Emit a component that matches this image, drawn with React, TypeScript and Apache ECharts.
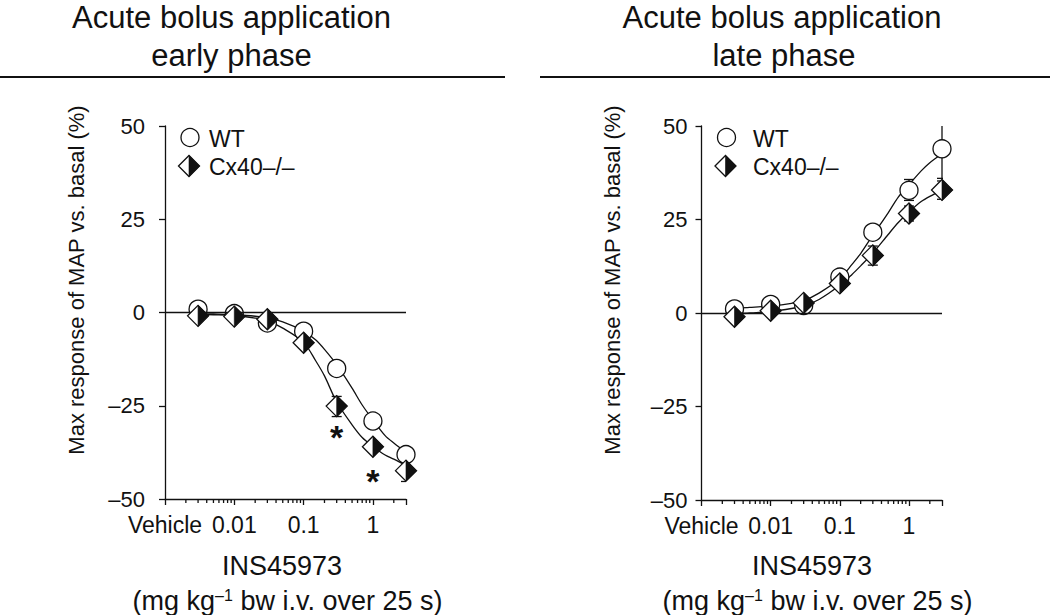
import React, { useEffect, useRef } from 'react';
import * as echarts from 'echarts';

// ---------------- data ----------------
const doses = [0.003, 0.01, 0.03, 0.1, 0.3, 1, 3];
const earlyWT = [0.9, -0.3, -2.8, -5.0, -15.0, -29.1, -38.1];
const earlyCx = [-0.9, -1.1, -1.8, -8.1, -25.1, -36.0, -42.4];
const lateWT = [1.1, 2.3, 2.0, 9.6, 21.6, 32.8, 43.9];
const lateCx = [-1.0, 0.6, 2.7, 7.9, 15.4, 26.6, 32.9];

// fitted curves
const fitDoses = [0.003, 0.005, 0.01, 0.02, 0.03, 0.05, 0.1, 0.15, 0.2, 0.3, 0.5, 0.7, 1, 1.5, 2, 3];
const earlyWTFit = [-0.3, -0.4, -0.6, -1.0, -1.5, -2.5, -5.0, -7.4, -9.9, -14.0, -20.3, -24.8, -28.8, -33.0, -35.0, -37.5];
const earlyCxFit = [-0.5, -0.6, -0.8, -1.5, -2.2, -4.2, -8.0, -13.0, -17.0, -24.0, -30.1, -33.5, -35.9, -38.2, -39.3, -41.0];
const lateWTFit = [1.3, 1.5, 1.9, 2.6, 3.3, 5.3, 9.2, 13.0, 15.9, 20.8, 26.8, 31.0, 34.3, 38.0, 40.2, 42.6];
const lateCxFit = [-0.2, 0.0, 0.4, 1.2, 1.9, 3.6, 7.4, 10.3, 12.6, 16.0, 21.0, 24.2, 27.0, 29.8, 31.2, 32.8];

// error bars: [dose, low, high]
const earlyCxErr = [[0.3, -27.9, -22.5], [3, -45.3, -39.5]];
const lateWTErr = [[1, 30.1, 35.7], [3, 36.0, 52.0]];
const lateCxErr = [[0.3, 12.8, 17.9], [1, 24.6, 28.6], [3, 30.4, 35.3]];

// significance marks: [dose, y]
const earlyStars = [[0.3, -31.2], [1, -42.9]];

// axes
const yTicks = [-50, -25, 0, 25, 50];
const xMajorLabels: Record<string, string> = { '-3': 'Vehicle', '-2': '0.01', '-1': '0.1', '0': '1' };
const xMinorTicks = [
  0.002, 0.003, 0.004, 0.005, 0.006, 0.007, 0.008, 0.009,
  0.02, 0.03, 0.04, 0.05, 0.06, 0.07, 0.08, 0.09,
  0.2, 0.3, 0.4, 0.5, 0.6, 0.7, 0.8, 0.9,
  2,
];

const titles = [
  ['Acute bolus application', 'early phase'],
  ['Acute bolus application', 'late phase'],
];
const yTitle = 'Max response of MAP vs. basal (%)';
const xTitle1 = 'INS45973';
const xTitle2 = '(mg kg{sup|–1} bw i.v. over 25 s)';
const legendNames = ['WT', 'Cx40–/–'];

// ---------------- styling ----------------
const FONT = "'Liberation Sans', Arial, Helvetica, sans-serif";
const INK = '#111';
const LW = 1.3;

function pairs(xs: number[], ys: number[]) {
  return xs.map((x, i) => [x, ys[i]]);
}

function buildPanel(idx: number, wt: number[], cx: number[], wtFit: number[], cxFit: number[], wtErr: number[][], cxErr: number[][], stars: number[][]) {
  const series: any[] = [];
  series.push({
    type: 'line', xAxisIndex: idx, yAxisIndex: idx, z: 2,
    data: pairs(fitDoses, wtFit), smooth: 0.3, symbol: 'none',
    lineStyle: { color: INK, width: LW },
    markLine: {
      silent: true, symbol: ['none', 'none'], label: { show: false },
      lineStyle: { color: INK, width: LW, type: 'solid' },
      data: [{ yAxis: 0 }],
    },
  });
  series.push({
    type: 'line', xAxisIndex: idx, yAxisIndex: idx, z: 2,
    data: pairs(fitDoses, cxFit), smooth: 0.3, symbol: 'none',
    lineStyle: { color: INK, width: LW },
  });
  const errSeries = (data: number[][]) => ({
    type: 'custom', xAxisIndex: idx, yAxisIndex: idx, z: 3, clip: true,
    data, encode: { x: 0, y: [1, 2] },
    renderItem: (params: any, api: any) => {
      const x = api.value(0);
      const lo = api.coord([x, api.value(1)]);
      const hi = api.coord([x, api.value(2)]);
      const w = 5;
      const st = { stroke: INK, lineWidth: LW };
      return {
        type: 'group',
        children: [
          { type: 'line', shape: { x1: lo[0], y1: lo[1], x2: hi[0], y2: hi[1] }, style: st },
          { type: 'line', shape: { x1: lo[0] - w, y1: lo[1], x2: lo[0] + w, y2: lo[1] }, style: st },
          { type: 'line', shape: { x1: hi[0] - w, y1: hi[1], x2: hi[0] + w, y2: hi[1] }, style: st },
        ],
      };
    },
  });
  series.push(errSeries(wtErr));
  series.push(errSeries(cxErr));
  series.push({
    type: 'scatter', xAxisIndex: idx, yAxisIndex: idx, z: 4,
    data: pairs(doses, wt), symbol: 'circle', symbolSize: 18,
    itemStyle: { color: '#fff', borderColor: INK, borderWidth: LW, opacity: 1 },
  });
  series.push({
    type: 'scatter', xAxisIndex: idx, yAxisIndex: idx, z: 5,
    data: pairs(doses, cx), symbol: 'diamond', symbolSize: 21,
    itemStyle: { color: '#fff', borderColor: INK, borderWidth: LW, opacity: 1 },
  });
  series.push({
    type: 'scatter', xAxisIndex: idx, yAxisIndex: idx, z: 6,
    data: pairs(doses, cx), symbol: 'path://M0,0 L1,1 L0,2 Z', symbolSize: [10.5, 21],
    symbolOffset: ['50%', 0], symbolKeepAspect: false,
    itemStyle: { color: INK, borderColor: INK, borderWidth: 0.6, opacity: 1 },
  });
  // minor x ticks
  series.push({
    type: 'custom', xAxisIndex: idx, yAxisIndex: idx, z: 3, clip: false, silent: true,
    data: xMinorTicks.map((v) => [v, -50]), encode: { x: 0, y: 1 },
    renderItem: (params: any, api: any) => {
      const p = api.coord([api.value(0), api.value(1)]);
      return { type: 'line', shape: { x1: p[0], y1: p[1], x2: p[0], y2: p[1] + 4 }, style: { stroke: INK, lineWidth: LW } };
    },
  });
  if (stars.length) {
    series.push({
      type: 'custom', xAxisIndex: idx, yAxisIndex: idx, z: 7, clip: false, silent: true,
      data: stars, encode: { x: 0, y: 1 },
      renderItem: (params: any, api: any) => {
        const p = api.coord([api.value(0), api.value(1)]);
        return {
          type: 'text', x: p[0], y: p[1] + 8,
          style: { text: '*', fontSize: 34, fontWeight: 'bold', fontFamily: FONT, fill: INK, align: 'center', verticalAlign: 'middle' },
        };
      },
    });
  }
  return series;
}

function xAxis(idx: number) {
  return {
    type: 'log', logBase: 10, min: 0.001, max: 3, gridIndex: idx,
    axisLine: { show: true, onZero: false, lineStyle: { color: INK, width: LW } },
    axisTick: { show: true, length: 6, lineStyle: { color: INK, width: LW } },
    minorTick: { show: false },
    splitLine: { show: false },
    axisLabel: {
      show: true, fontSize: 23, color: INK, fontFamily: FONT, margin: 14,
      formatter: (v: number) => {
        const k = String(Math.round(Math.log10(v)));
        const e = Math.abs(Math.log10(v) - Math.round(Math.log10(v)));
        return e < 1e-6 && xMajorLabels[k] !== undefined ? xMajorLabels[k] : '';
      },
    },
  };
}

function yAxis(idx: number, margin: number) {
  return {
    type: 'value', min: yTicks[0], max: yTicks[yTicks.length - 1], interval: 25, gridIndex: idx,
    axisLine: { show: true, onZero: false, lineStyle: { color: INK, width: LW } },
    axisTick: { show: true, length: 6, lineStyle: { color: INK, width: LW } },
    splitLine: { show: false },
    axisLabel: {
      fontSize: 22, color: INK, fontFamily: FONT, margin,
      formatter: (v: number) => (v < 0 ? '–' + Math.abs(v) : String(v)),
    },
  };
}

function legendGraphics(cx: number, tx: number) {
  const d = 10.5;
  const dy = 166;
  return [
    { type: 'circle', shape: { cx: cx + 1, cy: 137.5, r: 9 }, style: { fill: '#fff', stroke: INK, lineWidth: LW } },
    { type: 'text', x: tx, y: 138.5, style: { text: legendNames[0], fontSize: 23, fontFamily: FONT, fill: INK, align: 'left', verticalAlign: 'middle' } },
    { type: 'polygon', shape: { points: [[cx - d, dy], [cx, dy - d], [cx + d, dy], [cx, dy + d]] }, style: { fill: '#fff', stroke: INK, lineWidth: LW } },
    { type: 'polygon', shape: { points: [[cx, dy - d], [cx + d, dy], [cx, dy + d]] }, style: { fill: INK, stroke: INK, lineWidth: 0.6 } },
    { type: 'text', x: tx, y: 166.5, style: { text: legendNames[1], fontSize: 23, fontFamily: FONT, fill: INK, align: 'left', verticalAlign: 'middle' } },
  ];
}

function textG(text: string, x: number, y: number, size: number, extra: any = {}) {
  return { type: 'text', x, y, style: { text, fontSize: size, fontFamily: FONT, fill: INK, align: 'center', verticalAlign: 'middle' }, ...extra };
}

export default function App() {
  const ref = useRef<HTMLDivElement>(null);
  useEffect(() => {
    if (!ref.current) return;
    const chart = echarts.init(ref.current, undefined, { renderer: 'svg' });
    const richSup = { sup: { fontSize: 16, fontFamily: FONT, fill: INK, verticalAlign: 'top', lineHeight: 16 } };
    const graphic: any[] = [
      textG(titles[0][0], 231.5, 17, 31),
      textG(titles[0][1], 231.5, 55, 31),
      textG(titles[1][0], 782, 17, 31),
      textG(titles[1][1], 784, 55, 31),
      { type: 'line', shape: { x1: 0, y1: 77, x2: 505, y2: 77 }, style: { stroke: INK, lineWidth: 2 } },
      { type: 'line', shape: { x1: 540, y1: 77, x2: 1050, y2: 77 }, style: { stroke: INK, lineWidth: 2 } },
      textG(yTitle, 76, 280, 22, { rotation: Math.PI / 2 }),
      textG(yTitle, 612, 280, 22, { rotation: Math.PI / 2 }),
      textG(xTitle1, 282, 566, 27),
      textG(xTitle1, 812, 566, 27),
      { type: 'text', x: 287.5, y: 601, style: { text: xTitle2, rich: richSup, fontSize: 27, fontFamily: FONT, fill: INK, align: 'center', verticalAlign: 'middle' } },
      { type: 'text', x: 817.5, y: 601, style: { text: xTitle2, rich: richSup, fontSize: 27, fontFamily: FONT, fill: INK, align: 'center', verticalAlign: 'middle' } },
      ...legendGraphics(189, 209),
      ...legendGraphics(725.5, 753),
    ];
    chart.setOption({
      animation: false,
      backgroundColor: '#fff',
      grid: [
        { left: 165, top: 126, width: 241, height: 373, containLabel: false },
        { left: 701.5, top: 126, width: 240.5, height: 374, containLabel: false },
      ],
      xAxis: [xAxis(0), xAxis(1)],
      yAxis: [yAxis(0, 20), yAxis(1, 14)],
      series: [
        ...buildPanel(0, earlyWT, earlyCx, earlyWTFit, earlyCxFit, [], earlyCxErr, earlyStars),
        ...buildPanel(1, lateWT, lateCx, lateWTFit, lateCxFit, lateWTErr, lateCxErr, []),
      ],
      graphic,
    });
    return () => chart.dispose();
  }, []);
  return <div ref={ref} style={{ position: 'absolute', left: 0, top: 0, width: 1050, height: 615 }} />;
}
